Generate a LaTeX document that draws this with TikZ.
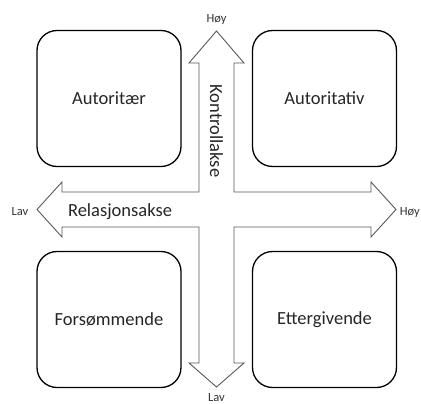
\documentclass[tikz,border=0pt]{standalone}
\usepackage{fontspec}
\setmainfont{Carlito}
\begin{document}
\begin{tikzpicture}[x=1pt,y=-1pt,
  quad/.style={draw=black,line width=1.3pt,rounded corners=20pt,minimum width=144pt,minimum height=136pt,inner sep=0pt,font=\fontsize{18.5}{22}\selectfont,text=black!85},
  axislabel/.style={font=\fontsize{18.5}{22}\selectfont,text=black!85,inner sep=0pt},
  endlabel/.style={font=\fontsize{12.5}{14}\selectfont,text=black!80,inner sep=0pt},
  axisline/.style={draw=black!65,line width=0.9pt,line join=miter}]
\useasboundingbox (0,0) rectangle (421,404);
\fill[white] (0,0) rectangle (421,404);
% quadrant boxes
\node[quad] (tl) at (109,98.5) {Autoritær};
\node[quad] (tr) at (324.5,98.5) {Autoritativ};
\node[quad] (bl) at (109,319.5) {Forsømmende};
\node[quad] (br) at (324.5,319.5) {Ettergivende};
% cross of two block arrows
\coordinate (topTip) at (216.5,31);
\coordinate (botTip) at (216.5,387);
\coordinate (leftTip) at (37,209.5);
\coordinate (rightTip) at (396,209.5);
\draw[axisline] (topTip) -- (244,63) -- (234,63) -- (234,192) -- (371,192) -- (371,182)
  -- (rightTip) -- (371,237) -- (371,227) -- (234,227) -- (234,363) -- (244,363)
  -- (botTip) -- (189,363) -- (199,363) -- (199,227) -- (62,227) -- (62,237)
  -- (leftTip) -- (62,182) -- (62,192) -- (199,192) -- (199,63) -- (189,63) -- cycle;
% axis labels
\node[axislabel] (kontroll) at (216.5,131) [rotate=-90] {Kontrollakse};
\node[axislabel] (relasjon) at (120,212) {Relasjonsakse};
% end labels
\node[endlabel,anchor=base] (hoyTop) at (216.5,23) {Høy};
\node[endlabel,anchor=base] (lavBot) at (216.5,401.5) {Lav};
\node[endlabel,anchor=base] (lavLeft) at (20,215.5) {Lav};
\node[endlabel,anchor=base east] (hoyRight) at (420,215) {Høy};
\end{tikzpicture}
\end{document}
